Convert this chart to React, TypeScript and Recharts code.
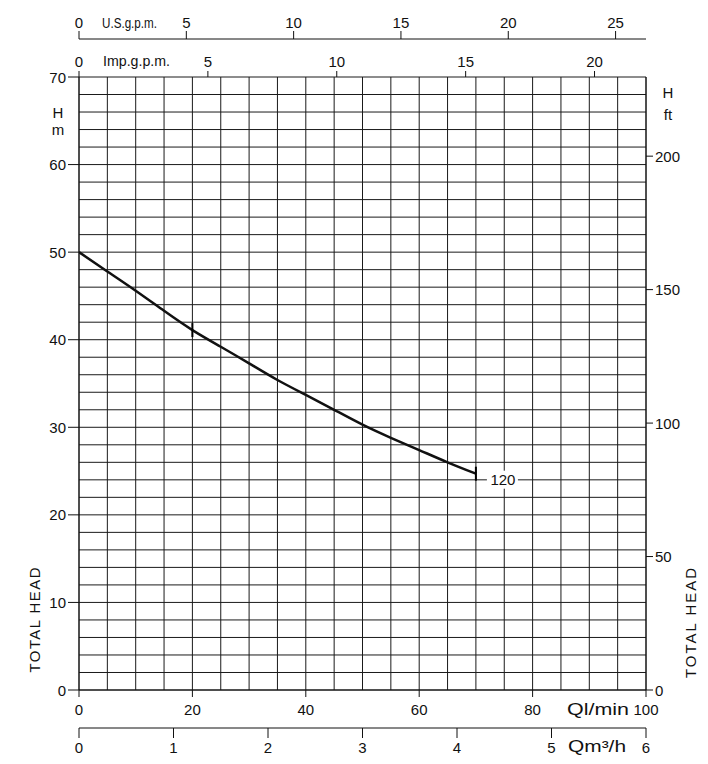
import React from 'react';
import { LineChart, Line, XAxis, YAxis, CartesianGrid } from 'recharts';

// ---- data ----
const flow = [0, 5, 10, 15, 20, 25, 30, 35, 40, 45, 50, 55, 60, 65, 70];
const head = [50, 47.8, 45.6, 43.3, 41.1, 39.2, 37.3, 35.4, 33.7, 32.0, 30.3, 28.8, 27.4, 26.0, 24.7];
const markFlows = [20, 70];
const curveLabel = '120';

const qTicks = [0, 5, 10, 15, 20, 25, 30, 35, 40, 45, 50, 55, 60, 65, 70, 75, 80, 85, 90, 95, 100];
const qLabelTicks = [0, 20, 40, 60, 80, 100];
const hTicks = [0, 2, 4, 6, 8, 10, 12, 14, 16, 18, 20, 22, 24, 26, 28, 30, 32, 34, 36, 38, 40, 42, 44, 46, 48, 50, 52, 54, 56, 58, 60, 62, 64, 66, 68, 70];
const hLabelTicks = [0, 10, 20, 30, 40, 50, 60, 70];
const ftTicks = [0, 50, 100, 150, 200];
const impTicks = [0, 5, 10, 15, 20];
const usTicks = [0, 5, 10, 15, 20, 25];
const m3hTicks = [0, 1, 2, 3, 4, 5, 6];

// unit conversions
const M_TO_FT = 3.28084;
const LMIN_TO_IMP = 0.219969;
const LMIN_TO_US = 0.264172;
const LMIN_TO_M3H = 0.06;

const Q_MAX = 100;
const H_MAX = 70;

const data = flow.map((q, i) => ({
  q,
  h: head[i],
  imp: q * LMIN_TO_IMP,
  us: q * LMIN_TO_US,
  m3h: q * LMIN_TO_M3H,
  hft: head[i] * M_TO_FT,
}));

const FONT = 'Liberation Sans, Arial, sans-serif';
const FS = 15;
const INK = '#111';

const txt = { fontFamily: FONT, fontSize: FS, fill: INK } as const;

const LeftTick = (p: any) => {
  const v = p.payload.value;
  if (!hLabelTicks.includes(v)) return <g />;
  return (
    <g>
      <line x1={p.x - 11} x2={p.x} y1={p.y} y2={p.y} stroke={INK} strokeWidth={1} />
      <text x={p.x - 13} y={p.y + 5.5} textAnchor="end" {...txt}>{v}</text>
    </g>
  );
};

const RightTick = (p: any) => {
  const v = p.payload.value;
  return (
    <g>
      <line x1={p.x} x2={p.x + 7} y1={p.y} y2={p.y} stroke={INK} strokeWidth={1} />
      <text x={p.x + 9} y={p.y + 5.5} textAnchor="start" {...txt}>{v}</text>
    </g>
  );
};

const QTick = (p: any) => {
  const v = p.payload.value;
  if (!qLabelTicks.includes(v)) return <g />;
  return (
    <g>
      <line x1={p.x} x2={p.x} y1={p.y} y2={p.y + 7} stroke={INK} strokeWidth={1} />
      <text x={p.x} y={p.y + 25} textAnchor="middle" {...txt}>{v}</text>
    </g>
  );
};

const M3hTick = (p: any) => {
  const v = p.payload.value;
  return (
    <g>
      <line x1={p.x} x2={p.x} y1={p.y} y2={p.y + 10} stroke={INK} strokeWidth={1} />
      <text x={p.x} y={p.y + 24.5} textAnchor="middle" {...txt}>{v}</text>
    </g>
  );
};

const ImpTick = (p: any) => {
  const v = p.payload.value;
  return (
    <g>
      <line x1={p.x} x2={p.x} y1={p.y} y2={p.y - 6} stroke={INK} strokeWidth={1} />
      <text x={p.x} y={p.y - 10.5} textAnchor="middle" {...txt}>{v}</text>
    </g>
  );
};

const UsTick = (p: any) => {
  const v = p.payload.value;
  return (
    <g>
      <line x1={p.x} x2={p.x} y1={p.y} y2={p.y - 8} stroke={INK} strokeWidth={1} />
      <text x={p.x} y={p.y - 11} textAnchor="middle" {...txt}>{v}</text>
    </g>
  );
};

const CurveDot = (p: any) => {
  const { cx, cy, payload, index } = p;
  if (!markFlows.includes(payload.q)) return <g key={`d${index}`} />;
  const isEnd = index === flow.length - 1;
  return (
    <g key={`d${index}`}>
      <line x1={cx} x2={cx} y1={cy - 7} y2={cy + 7} stroke="#000" strokeWidth={2} />
      {isEnd && (
        <g>
          <rect x={cx + 11} y={cy - 3} width={31} height={18} fill="#fff" />
          <text x={cx + 27} y={cy + 11.5} textAnchor="middle" {...txt}>{curveLabel}</text>
        </g>
      )}
    </g>
  );
};

export default function App() {
  return (
    <div style={{ position: 'absolute', left: 0, top: 0, width: 708, height: 764, background: '#fff' }}>
      <LineChart width={708} height={764} data={data} margin={{ top: 0, right: 0, bottom: 0, left: 0 }}>
        <XAxis
          xAxisId="aq" dataKey="q" type="number" orientation="bottom" domain={[0, Q_MAX]} ticks={qTicks}
          interval={0} height={38} tickSize={0} tickMargin={0} tick={QTick} tickLine={false}
          axisLine={{ stroke: INK }} allowDataOverflow
        />
        <XAxis
          xAxisId="bm3h" dataKey="m3h" type="number" orientation="bottom" domain={[0, Q_MAX * LMIN_TO_M3H]} ticks={m3hTicks}
          interval={0} height={36} tickSize={0} tickMargin={0} tick={M3hTick} tickLine={false}
          axisLine={{ stroke: INK }} allowDataOverflow
        />
        <XAxis
          xAxisId="aimp" dataKey="imp" type="number" orientation="top" domain={[0, Q_MAX * LMIN_TO_IMP]} ticks={impTicks}
          interval={0} height={38} tickSize={0} tickMargin={0} tick={ImpTick} tickLine={false}
          axisLine={false} allowDataOverflow
        />
        <XAxis
          xAxisId="bus" dataKey="us" type="number" orientation="top" domain={[0, Q_MAX * LMIN_TO_US]} ticks={usTicks}
          interval={0} height={39} tickSize={0} tickMargin={0} tick={UsTick} tickLine={false}
          axisLine={{ stroke: INK }} allowDataOverflow
        />
        <YAxis
          yAxisId="m" type="number" orientation="left" domain={[0, H_MAX]} ticks={hTicks}
          interval={0} width={79} tickSize={0} tickMargin={0} tick={LeftTick} tickLine={false}
          axisLine={{ stroke: INK }} allowDataOverflow
        />
        <YAxis
          yAxisId="ft" dataKey="hft" type="number" orientation="right" domain={[0, H_MAX * M_TO_FT]} ticks={ftTicks}
          interval={0} width={62} tickSize={0} tickMargin={0} tick={RightTick} tickLine={false}
          axisLine={{ stroke: INK }} allowDataOverflow
        />
        <CartesianGrid xAxisId="aq" yAxisId="m" stroke="#1a1a1a" strokeWidth={1} />
        <Line
          xAxisId="aq" yAxisId="m" dataKey="h" type="natural" stroke={INK} strokeWidth={2.5}
          dot={CurveDot} activeDot={false} isAnimationActive={false}
        />
      </LineChart>
      <svg width={708} height={764} style={{ position: 'absolute', left: 0, top: 0, pointerEvents: 'none' }}>
        <text x={102} y={28} textLength={55} lengthAdjust="spacingAndGlyphs" {...txt}>U.S.g.p.m.</text>
        <text x={103} y={66} textLength={67} lengthAdjust="spacingAndGlyphs" {...txt}>Imp.g.p.m.</text>
        <text x={58} y={118} textAnchor="middle" {...txt}>H</text>
        <text x={58} y={135} textAnchor="middle" {...txt}>m</text>
        <text x={668} y={98} textAnchor="middle" {...txt}>H</text>
        <text x={668} y={120} textAnchor="middle" {...txt}>ft</text>
        <text x={567} y={715} textLength={62} lengthAdjust="spacingAndGlyphs" {...txt} fontSize={16}>Ql/min</text>
        <text x={568} y={752} textLength={58} lengthAdjust="spacingAndGlyphs" {...txt} fontSize={16}>Qm³/h</text>
        <text transform="translate(40,620) rotate(-90)" textAnchor="middle" textLength={105} lengthAdjust="spacing" {...txt}>TOTAL HEAD</text>
        <text transform="translate(696,623) rotate(-90)" textAnchor="middle" textLength={110} lengthAdjust="spacing" {...txt}>TOTAL HEAD</text>
      </svg>
    </div>
  );
}
